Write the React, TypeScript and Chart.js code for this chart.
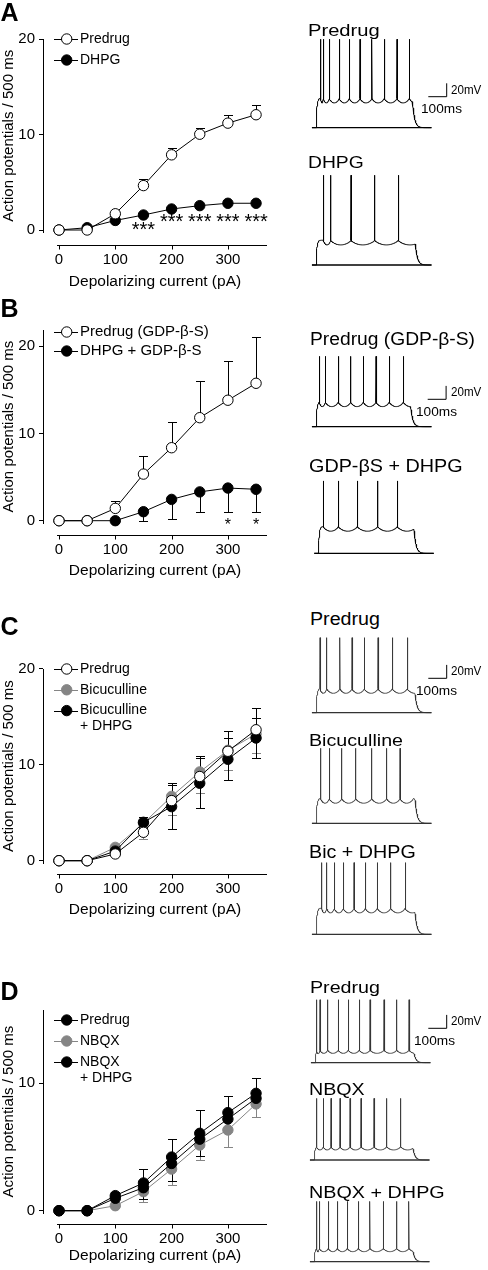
import React, { useEffect, useRef } from 'react';
import { Chart, registerables } from 'chart.js';

Chart.register(...registerables);

const FONT = '"Liberation Sans", Arial, Helvetica, sans-serif';

// ---------------- DATA ----------------
const currents = [0, 50, 100, 150, 200, 250, 300, 350];
const xTickValues = [0, 100, 200, 300];
const yTickValues = [0, 10, 20];
const yTickValuesD = [0, 10];
const xAxisTitle = 'Depolarizing current (pA)';
const yAxisTitle = 'Action potentials / 500 ms';

// Panel A
const aPredrug = [0, 0, 1.7, 4.65, 7.87, 10.03, 11.19, 12.07];
const aPredrugSem = [0, 0, 0.3, 0.7, 0.7, 0.7, 0.8, 1.0];
const aDhpg = [0, 0.24, 1.0, 1.57, 2.2, 2.55, 2.8, 2.8];
const aSigCurrents = [150, 200, 250, 300, 350];
const aSigLevels = [0.6, 1.4, 1.4, 1.4, 1.4];

// Panel B
const bPredrug = [0, 0, 1.41, 5.34, 8.36, 11.8, 13.8, 15.74];
const bPredrugSem = [0, 0, 0.88, 2.06, 2.94, 4.2, 4.5, 5.26];
const bDhpg = [0, 0, 0, 1.03, 2.44, 3.3, 3.74, 3.6];
const bDhpgSem = [0, 0, 0, 1.03, 2.21, 2.35, 2.79, 2.64];
const bSigCurrents = [300, 350];
const bSigLevels = [-0.05, -0.05];

// Panel C
const cPredrug = [0, 0, 0.7, 2.96, 6.26, 8.77, 11.4, 13.64];
const cPredrugSem = [0, 0, 0.3, 0.6, 1.8, 2.1, 2.1, 2.3];
const cBic = [0, 0, 1.39, 3.9, 6.7, 9.25, 11.5, 13.2];
const cBicSem = [0, 0, 0.3, 1.6, 1.9, 2.15, 2.0, 2.0];
const cBicDhpg = [0, 0, 1.0, 4.0, 5.63, 8.07, 10.57, 12.78];
const cBicDhpgSem = [0, 0, 0.3, 0.6, 2.3, 2.6, 2.2, 2.1];

// Panel D
const dPredrug = [0, 0, 1.18, 2.17, 4.2, 6.06, 7.68, 9.19];
const dPredrugSem = [0, 0, 0.31, 1.13, 1.4, 1.8, 1.3, 1.21];
const dNbqx = [0, 0, 0.39, 1.49, 3.26, 5.14, 6.32, 8.36];
const dNbqxSem = [0, 0, 0.2, 0.79, 1.26, 1.18, 1.32, 1.06];
const dNbqxDhpg = [0, 0, 0.97, 1.8, 3.7, 5.6, 7.18, 8.8];
const dNbqxDhpgSem = [0, 0, 0.3, 0.9, 1.4, 1.3, 0, 0];

// Voltage traces: spike times (ms after step onset), levels [rest, plateau, peak] (mV), step length (ms)
const traceA1Spikes = [25.5, 39.7, 72.3, 126.6, 181, 239, 304, 371, 440, 507];
const traceA1Levels = [-70, -26, 62];
const traceA2Spikes = [39.7, 79.9, 190, 319, 447];
const traceA2Levels = [-70, -33, 64];
const traceB1Spikes = [18, 50.5, 121, 188.6, 257, 326, 398, 474.5];
const traceB1Levels = [-70, -33, 35];
const traceB2Spikes = [27, 108.7, 212, 323, 429];
const traceB2Levels = [-70, -30, 38];
const traceC1Spikes = [21.7, 58, 130, 195.7, 262.5, 337, 414.7, 496];
const traceC1Levels = [-70, -34, 42];
const traceC2Spikes = [25.5, 72.3, 139.7, 215.8, 302.7, 384, 456.5];
const traceC2Levels = [-70, -33, 42];
const traceC3Spikes = [31, 58, 99.5, 148.4, 206.5, 268, 333, 406, 484];
const traceC3Levels = [-70, -31, 37];
const traceD1Spikes = [9.2, 27, 69, 126.6, 181, 240.8, 299, 375, 444, 511];
const traceD1Levels = [-70, -51, 24];
const traceD2Spikes = [14.7, 50.5, 92.4, 141.3, 195.7, 255.4, 326, 395, 471];
const traceD2Levels = [-70, -50, 22];
const traceD3Spikes = [14.7, 28.8, 77.7, 126.6, 181, 240.8, 304, 376.6, 449.5, 516];
const traceD3Levels = [-70, -50, 20];
const stepLengths = { A1: 525, A2: 540, B1: 515, B2: 520, C: 538, D: 538 };
const scaleBarMs = 100;
const scaleBarMv = 20;

// ---------------- LAYOUT ----------------
const PX_MS = 0.184;
const PX_MV = 0.67;
const AREA_L = 43;
const AREA_R = 267;
const X0_PX = 59;
const X_PX_PER_PA = 0.563;
const CHART_W = 290;

let measureCtx: CanvasRenderingContext2D | null = null;
function measure(text: string, font: string) {
  if (!measureCtx) measureCtx = document.createElement('canvas').getContext('2d');
  measureCtx!.font = font;
  return measureCtx!.measureText(text).width;
}

function Label({ text, x, base, size, width, bold }: any) {
  const font = `${bold ? 'bold ' : ''}${size}px ${FONT}`;
  const w = measure(text, font);
  const sx = width ? width / w : 1;
  const top = base - 0.8465 * size;
  return (
    <div
      style={{
        position: 'absolute', left: x, top, font, lineHeight: `${size}px`,
        whiteSpace: 'nowrap', transform: `scaleX(${sx})`, transformOrigin: '0 0', color: '#000',
      }}
    >
      {text}
    </div>
  );
}

function makeSpinePlugin(axisY: number) {
  return {
    id: 'spine',
    afterDraw(chart: any) {
      const { ctx, chartArea, scales } = chart;
      const x = scales.x;
      const y = Math.round(axisY) + 0.5;
      ctx.save();
      ctx.strokeStyle = '#000';
      ctx.lineWidth = 1;
      ctx.beginPath();
      ctx.moveTo(x.getPixelForValue(-3.5), y);
      ctx.lineTo(chartArea.right, y);
      for (const v of xTickValues) {
        const px = Math.round(x.getPixelForValue(v)) + 0.5;
        ctx.moveTo(px, y);
        ctx.lineTo(px, y + 4);
      }
      ctx.stroke();
      ctx.restore();
    },
  };
}

const errorBarPlugin = {
  id: 'errorBars',
  beforeDatasetsDraw(chart: any) {
    const { ctx, scales } = chart;
    const xs = scales.x, ys = scales.y;
    chart.data.datasets.forEach((ds: any) => {
      if (!ds.errors) return;
      ctx.save();
      ctx.strokeStyle = ds.errColor;
      ctx.lineWidth = 1;
      ds.data.forEach((p: any, i: number) => {
        const e = ds.errors[i];
        if (!e) return;
        const px = Math.round(xs.getPixelForValue(p.x)) + 0.5;
        const py = ys.getPixelForValue(p.y);
        const ends: number[] = [];
        if (ds.errDir !== 'down') ends.push(p.y + e);
        if (ds.errDir !== 'up') ends.push(p.y - e);
        for (const v of ends) {
          const ey = Math.round(ys.getPixelForValue(v)) + 0.5;
          ctx.beginPath();
          ctx.moveTo(px, py);
          ctx.lineTo(px, ey);
          ctx.moveTo(px - 4.5, ey);
          ctx.lineTo(px + 4.5, ey);
          ctx.stroke();
        }
      });
      ctx.restore();
    });
  },
};

function makeLegendPlugin(cfg: any) {
  return {
    id: 'lineLegend',
    afterDatasetsDraw(chart: any) {
      const { ctx } = chart;
      let y = cfg.top;
      ctx.save();
      ctx.font = `${cfg.size}px ${FONT}`;
      ctx.textBaseline = 'middle';
      chart.data.datasets.forEach((ds: any) => {
        ctx.strokeStyle = ds.borderColor;
        ctx.lineWidth = 1;
        ctx.beginPath();
        ctx.moveTo(54, Math.round(y) + 0.5);
        ctx.lineTo(78, Math.round(y) + 0.5);
        ctx.stroke();
        ctx.beginPath();
        ctx.arc(66.7, y, 5.2, 0, Math.PI * 2);
        ctx.fillStyle = ds.pointBackgroundColor;
        ctx.fill();
        ctx.strokeStyle = ds.pointBorderColor;
        ctx.stroke();
        ctx.fillStyle = '#000';
        const lines = String(ds.label).split('\n');
        lines.forEach((ln, k) => ctx.fillText(ln, 80, y + k * cfg.lineGap));
        y += cfg.gap + (lines.length - 1) * cfg.lineGap;
      });
      ctx.restore();
    },
  };
}

function makeSigPlugin(xs: number[], ys: number[], text: string, size: number) {
  return {
    id: 'sig',
    afterDatasetsDraw(chart: any) {
      const { ctx, scales } = chart;
      ctx.save();
      ctx.font = `${size}px ${FONT}`;
      ctx.textAlign = 'center';
      ctx.textBaseline = 'alphabetic';
      ctx.fillStyle = '#000';
      xs.forEach((xv, i) => {
        ctx.fillText(text, scales.x.getPixelForValue(xv), scales.y.getPixelForValue(ys[i]) + 0.58 * size);
      });
      ctx.restore();
    },
  };
}

function series(label: string, values: number[], sem: number[] | null, dir: string, fill: string, stroke: string, order: number) {
  return {
    label,
    data: currents.map((x, i) => ({ x, y: values[i] })),
    borderColor: stroke,
    borderWidth: 1,
    pointRadius: 5.2,
    pointBorderWidth: 1,
    pointBackgroundColor: fill,
    pointBorderColor: stroke,
    clip: false,
    order,
    errors: sem,
    errDir: dir,
    errColor: stroke,
  };
}

function ApChart({ layout, datasets, yTicks, legend, sig }: any) {
  const ref = useRef<HTMLCanvasElement>(null);
  const H = layout.bottom - layout.top;
  useEffect(() => {
    const L = layout;
    const areaBottom = L.zeroPx + 2.5;
    const yMax = (L.zeroPx - L.areaTop) / L.unitPx;
    const yMin = -2.5 / L.unitPx;
    const xMin = (AREA_L - X0_PX) / X_PX_PER_PA;
    const xMax = (AREA_R - X0_PX) / X_PX_PER_PA;
    const xPad = L.axisPx + 15 - 17 - areaBottom;
    const titlePadB = L.bottom - 9.3 - L.titlePx;
    const plugins: any[] = [
      errorBarPlugin,
      makeSpinePlugin(L.axisPx - L.top),
      makeLegendPlugin({ ...legend, top: legend.top - L.top }),
    ];
    if (sig) plugins.push(makeSigPlugin(sig.xs, sig.ys, sig.text, sig.size));
    const chart = new Chart(ref.current as HTMLCanvasElement, {
      type: 'line',
      data: { datasets },
      options: {
        responsive: false,
        animation: false,
        events: [],
        layout: { padding: { top: L.areaTop - L.top, right: CHART_W - AREA_R, left: 0, bottom: 0 } },
        plugins: { legend: { display: false }, tooltip: { enabled: false } },
        scales: {
          x: {
            type: 'linear',
            min: xMin,
            max: xMax,
            afterBuildTicks: (s: any) => { s.ticks = xTickValues.map((v) => ({ value: v })); },
            afterFit: (s: any) => { s.height = L.bottom - areaBottom; },
            grid: { display: false },
            border: { display: false },
            ticks: { padding: xPad, font: { family: FONT, size: 15 }, color: '#000', maxRotation: 0, autoSkip: false },
            title: { display: true, text: xAxisTitle, font: { family: FONT, size: 15.5 }, color: '#000', padding: { top: 0, bottom: titlePadB } },
          },
          y: {
            type: 'linear',
            min: yMin,
            max: yMax,
            afterBuildTicks: (s: any) => { s.ticks = yTicks.map((v: number) => ({ value: v })); },
            afterFit: (s: any) => { s.width = AREA_L; },
            grid: { drawOnChartArea: false, drawTicks: true, tickLength: 4, color: '#000', lineWidth: 1 },
            border: { display: true, color: '#000', width: 1 },
            ticks: { padding: 4, font: { family: FONT, size: 15 }, color: '#000', autoSkip: false },
            title: { display: true, text: yAxisTitle, font: { family: FONT, size: 15 }, color: '#000', padding: { top: 0, bottom: 0 } },
          },
        },
      } as any,
      plugins,
    });
    return () => chart.destroy();
  }, []);
  return (
    <canvas
      ref={ref}
      width={CHART_W}
      height={H}
      style={{ position: 'absolute', left: 0, top: layout.top, width: CHART_W, height: H }}
    />
  );
}

function buildTrace(spikes: number[], levels: number[], stepEnd: number, depth: number) {
  const [rest, plateau, peak] = levels;
  const lastIsi = spikes.length > 1 ? spikes[spikes.length - 1] - spikes[spikes.length - 2] : 80;
  const v = (t: number): number => {
    if (t <= 0) return rest;
    if (t > stepEnd) return rest + (v(stepEnd) - rest) * Math.exp(-(t - stepEnd) / 11);
    const env = rest + (plateau - rest) * (1 - Math.exp(-t / 4.5));
    let prev = -1;
    let next = -1;
    for (const s of spikes) {
      if (s <= t) prev = s;
      else { next = s; break; }
    }
    let dip = 0;
    if (prev >= 0) {
      const span = next >= 0 ? next - prev : lastIsi;
      const u = (t - prev) / span;
      if (u < 1) dip = depth * Math.pow(Math.sin(Math.PI * u), 0.7);
    }
    return env - dip;
  };
  const pts: { x: number; y: number }[] = [];
  for (let t = -22; t <= 628; t += 1) {
    if (spikes.some((s) => t > s - 0.3 && t < s + 1.1)) continue;
    pts.push({ x: t, y: v(t) });
  }
  for (const s of spikes) {
    pts.push({ x: s - 0.2, y: v(s - 0.2) }, { x: s + 0.3, y: peak }, { x: s + 1, y: v(s + 1) });
  }
  pts.sort((a, b) => a.x - b.x);
  return { pts, rest };
}

function TraceChart({ spikes, levels, stepEnd, onsetX, baseY, top, height, depth, color, lw, bar }: any) {
  const ref = useRef<HTMLCanvasElement>(null);
  const left = 300;
  const width = 188;
  useEffect(() => {
    const { pts, rest } = buildTrace(spikes, levels, stepEnd, depth);
    const xMin = (left - onsetX) / PX_MS;
    const xMax = xMin + width / PX_MS;
    const yMin = rest - (top + height - baseY) / PX_MV;
    const yMax = rest + (baseY - top) / PX_MV;
    const datasets: any[] = [
      { data: pts, borderColor: color, borderWidth: lw, pointRadius: 0, tension: 0 },
      { data: [{ x: -22, y: rest }, { x: 628, y: rest }], borderColor: color, borderWidth: 1.3, pointRadius: 0 },
    ];
    if (bar) {
      const t = (bar.x - onsetX) / PX_MS;
      const vv = rest + (baseY - bar.y) / PX_MV;
      datasets.push({
        data: [{ x: t, y: vv }, { x: t + scaleBarMs, y: vv }, { x: t + scaleBarMs, y: vv + scaleBarMv }],
        borderColor: '#000', borderWidth: 1, pointRadius: 0,
      });
    }
    const chart = new Chart(ref.current as HTMLCanvasElement, {
      type: 'line',
      data: { datasets },
      options: {
        responsive: false,
        animation: false,
        events: [],
        layout: { padding: 0 },
        plugins: { legend: { display: false }, tooltip: { enabled: false } },
        scales: {
          x: { type: 'linear', display: false, min: xMin, max: xMax },
          y: { type: 'linear', display: false, min: yMin, max: yMax },
        },
      } as any,
    });
    return () => chart.destroy();
  }, []);
  return (
    <canvas ref={ref} width={width} height={height} style={{ position: 'absolute', left, top, width, height }} />
  );
}

const layoutA = { top: 0, bottom: 300, areaTop: 39, zeroPx: 230, unitPx: 9.55, axisPx: 245, titlePx: 282 };
const layoutB = { top: 300, bottom: 592, areaTop: 330, zeroPx: 520.7, unitPx: 8.73, axisPx: 535, titlePx: 571 };
const layoutC = { top: 600, bottom: 930, areaTop: 669, zeroPx: 860.7, unitPx: 9.6, axisPx: 874, titlePx: 910 };
const layoutD = { top: 960, bottom: 1270, areaTop: 1010, zeroPx: 1210.7, unitPx: 12.77, axisPx: 1224, titlePx: 1256 };

const GREY = '#858585';

export default function App() {
  const dsA = [
    series('Predrug', aPredrug, aPredrugSem, 'up', '#fff', '#000', 0),
    series('DHPG', aDhpg, null, 'up', '#000', '#000', 1),
  ];
  const dsB = [
    series('Predrug (GDP-β-S)', bPredrug, bPredrugSem, 'up', '#fff', '#000', 0),
    series('DHPG + GDP-β-S', bDhpg, bDhpgSem, 'down', '#000', '#000', 1),
  ];
  const dsC = [
    series('Predrug', cPredrug, cPredrugSem, 'up', '#fff', '#000', 0),
    series('Bicuculline', cBic, cBicSem, 'down', GREY, GREY, 2),
    series('Bicuculline\n+ DHPG', cBicDhpg, cBicDhpgSem, 'both', '#000', '#000', 1),
  ];
  const dsD = [
    series('Predrug', dPredrug, dPredrugSem, 'up', '#000', '#000', 0),
    series('NBQX', dNbqx, dNbqxSem, 'down', GREY, GREY, 2),
    series('NBQX\n+ DHPG', dNbqxDhpg, dNbqxDhpgSem, 'down', '#000', '#000', 1),
  ];
  return (
    <div style={{ position: 'absolute', left: 0, top: 0, width: 488, height: 1270, background: '#fff', overflow: 'hidden' }}>
      <ApChart layout={layoutA} datasets={dsA} yTicks={yTickValues}
        legend={{ top: 39, gap: 21, lineGap: 16, size: 14 }}
        sig={{ xs: aSigCurrents, ys: aSigLevels, text: '***', size: 20 }} />
      <ApChart layout={layoutB} datasets={dsB} yTicks={yTickValues}
        legend={{ top: 332, gap: 19, lineGap: 16, size: 15 }}
        sig={{ xs: bSigCurrents, ys: bSigLevels, text: '*', size: 16 }} />
      <ApChart layout={layoutC} datasets={dsC} yTicks={yTickValues}
        legend={{ top: 669, gap: 20.8, lineGap: 16, size: 14 }} />
      <ApChart layout={layoutD} datasets={dsD} yTicks={yTickValuesD}
        legend={{ top: 1020, gap: 21, lineGap: 16, size: 14 }} />

      <TraceChart spikes={traceA1Spikes} levels={traceA1Levels} stepEnd={stepLengths.A1} onsetX={316} baseY={127.7} top={30} height={105} depth={7} color="#000" lw={1} bar={{ x: 428.3, y: 96.7 }} />
      <TraceChart spikes={traceA2Spikes} levels={traceA2Levels} stepEnd={stepLengths.A2} onsetX={316} baseY={265} top={168} height={102} depth={7} color="#000" lw={1} />
      <TraceChart spikes={traceB1Spikes} levels={traceB1Levels} stepEnd={stepLengths.B1} onsetX={316} baseY={426.7} top={348} height={85} depth={7} color="#000" lw={1} bar={{ x: 427.7, y: 399.3 }} />
      <TraceChart spikes={traceB2Spikes} levels={traceB2Levels} stepEnd={stepLengths.B2} onsetX={318.3} baseY={553.3} top={474} height={86} depth={7} color="#000" lw={1} />
      <TraceChart spikes={traceC1Spikes} levels={traceC1Levels} stepEnd={stepLengths.C} onsetX={316} baseY={712.7} top={630} height={88} depth={7} color="#333" lw={0.85} bar={{ x: 428.3, y: 678.3 }} />
      <TraceChart spikes={traceC2Spikes} levels={traceC2Levels} stepEnd={stepLengths.C} onsetX={316} baseY={823.3} top={742} height={88} depth={7} color="#333" lw={0.85} />
      <TraceChart spikes={traceC3Spikes} levels={traceC3Levels} stepEnd={stepLengths.C} onsetX={316} baseY={934.3} top={857} height={84} depth={7} color="#333" lw={0.85} />
      <TraceChart spikes={traceD1Spikes} levels={traceD1Levels} stepEnd={stepLengths.D} onsetX={315} baseY={1062.7} top={994} height={75} depth={5} color="#333" lw={0.85} bar={{ x: 428.3, y: 1028.3 }} />
      <TraceChart spikes={traceD2Spikes} levels={traceD2Levels} stepEnd={stepLengths.D} onsetX={314} baseY={1160} top={1092} height={74} depth={5} color="#333" lw={0.85} />
      <TraceChart spikes={traceD3Spikes} levels={traceD3Levels} stepEnd={stepLengths.D} onsetX={314} baseY={1261.7} top={1196} height={72} depth={5} color="#333" lw={0.85} />

      <Label text="A" x={0.5} base={21} size={25} bold />
      <Label text="B" x={0.5} base={316.7} size={25} bold />
      <Label text="C" x={0.5} base={635} size={25} bold />
      <Label text="D" x={0.5} base={1000} size={25} bold />

      <Label text="Predrug" x={308.3} base={36} size={17} width={71.7} />
      <Label text="DHPG" x={308.3} base={168} size={16.5} width={55.7} />
      <Label text="Predrug (GDP-β-S)" x={310} base={345} size={18} width={165} />
      <Label text="GDP-βS + DHPG" x={309.3} base={473.3} size={17.5} width={153.7} />
      <Label text="Predrug" x={310} base={625} size={18} width={70} />
      <Label text="Bicuculline" x={309.3} base={746.7} size={17} width={94} />
      <Label text="Bic + DHPG" x={309.3} base={858.3} size={18} width={106.7} />
      <Label text="Predrug" x={310} base={993.3} size={17} width={70} />
      <Label text="NBQX" x={309.3} base={1095} size={17} width={55.7} />
      <Label text="NBQX + DHPG" x={309.3} base={1198.3} size={17} width={135.7} />

      <Label text="20mV" x={451} base={94.3} size={12.5} width={30.3} />
      <Label text="100ms" x={420.7} base={113.3} size={13} width={41} />
      <Label text="20mV" x={451.3} base={397} size={12.5} width={30.3} />
      <Label text="100ms" x={416} base={416} size={13} width={41} />
      <Label text="20mV" x={451.3} base={676} size={12.5} width={30.3} />
      <Label text="100ms" x={416} base={695} size={13} width={41} />
      <Label text="20mV" x={451.3} base={1026} size={12.5} width={30.3} />
      <Label text="100ms" x={414} base={1045} size={13} width={41} />
    </div>
  );
}
